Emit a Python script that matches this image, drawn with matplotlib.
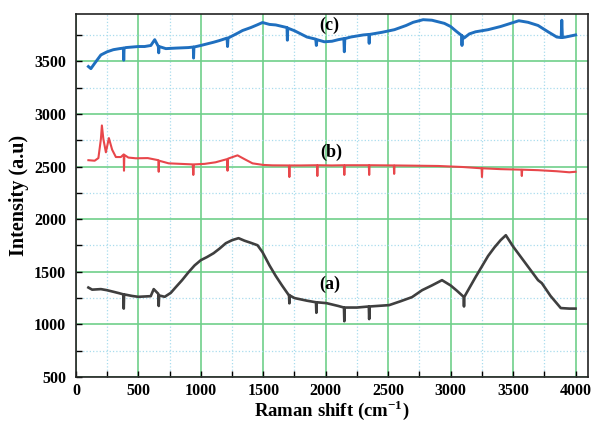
import matplotlib
matplotlib.use('Agg')
import matplotlib.pyplot as plt
from matplotlib.ticker import MultipleLocator

# 光谱数据 (从图中读取的近似值, 含尖峰)
a_x = [100, 130, 200, 248, 300, 350, 380, 383, 386, 450, 500, 599, 623, 660, 663, 666,
       711, 760, 800, 850, 902, 950, 1000, 1050, 1102, 1150, 1200, 1250, 1302, 1350,
       1400, 1454, 1494, 1550, 1600, 1650, 1700, 1706, 1709, 1712, 1750, 1850, 1922,
       1925, 1928, 2005, 2100, 2146, 2149, 2152, 2250, 2345, 2348, 2351, 2508, 2600,
       2691, 2772, 2850, 2931, 3000, 3050, 3104, 3107, 3110, 3200, 3300, 3350, 3400,
       3442, 3500, 3600, 3700, 3730, 3800, 3882, 3950, 4000]
a_y = [1350, 1330, 1335, 1325, 1310, 1295, 1285, 1150, 1285, 1270, 1262, 1268, 1335, 1290,
       1175, 1275, 1262, 1300, 1354, 1420, 1496, 1560, 1610, 1640, 1676, 1720, 1771, 1800,
       1819, 1795, 1775, 1752, 1686, 1560, 1460, 1370, 1285, 1280, 1200, 1275, 1250, 1225,
       1210, 1110, 1210, 1202, 1175, 1160, 1030, 1160, 1160, 1170, 1050, 1170, 1183, 1220,
       1259, 1325, 1370, 1420, 1370, 1320, 1262, 1170, 1262, 1450, 1650, 1730, 1800, 1847,
       1740, 1580, 1420, 1392, 1270, 1155, 1150, 1150]

b_x = [100, 150, 180, 200, 208, 220, 240, 264, 290, 320, 360, 383, 385, 388, 420, 480,
       575, 660, 663, 666, 743, 840, 935, 940, 945, 1030, 1118, 1210, 1214, 1218, 1294,
       1350, 1414, 1500, 1573, 1705, 1709, 1713, 1800, 1930, 1933, 1936, 2050, 2145,
       2149, 2153, 2345, 2348, 2351, 2545, 2548, 2551, 2700, 2900, 3000, 3100, 3248,
       3251, 3254, 3400, 3567, 3570, 3573, 3700, 3850, 3950, 4000]
b_y = [2560, 2555, 2580, 2760, 2890, 2760, 2635, 2770, 2660, 2590, 2590, 2615, 2460, 2610,
       2585, 2578, 2580, 2560, 2450, 2555, 2530, 2525, 2520, 2420, 2520, 2525, 2540, 2570,
       2460, 2575, 2606, 2570, 2530, 2515, 2511, 2510, 2400, 2510, 2510, 2512, 2410, 2512,
       2510, 2512, 2420, 2512, 2512, 2420, 2512, 2510, 2430, 2510, 2508, 2505, 2500, 2495,
       2483, 2400, 2483, 2475, 2470, 2410, 2470, 2465, 2455, 2445, 2450]

c_x = [100, 120, 150, 200, 250, 300, 350, 380, 383, 386, 400, 450, 500, 550, 600, 631,
       660, 663, 666, 720, 800, 900, 940, 942, 945, 1000, 1100, 1150, 1210, 1214, 1218,
       1300, 1334, 1400, 1450, 1494, 1550, 1600, 1690, 1693, 1696, 1750, 1800, 1850,
       1920, 1925, 1930, 1989, 2050, 2100, 2145, 2149, 2153, 2200, 2300, 2345, 2348,
       2351, 2450, 2550, 2644, 2700, 2780, 2850, 2950, 3000, 3050, 3088, 3091, 3094,
       3107, 3150, 3200, 3300, 3400, 3480, 3546, 3620, 3700, 3780, 3850, 3885, 3890,
       3895, 3920, 3960, 4000]
c_y = [3450, 3430, 3480, 3560, 3590, 3610, 3620, 3625, 3510, 3625, 3630, 3635, 3640, 3640,
       3650, 3705, 3640, 3580, 3640, 3620, 3625, 3630, 3635, 3530, 3635, 3650, 3680, 3697,
       3720, 3640, 3720, 3770, 3792, 3820, 3845, 3868, 3850, 3845, 3820, 3700, 3815, 3790,
       3760, 3730, 3710, 3650, 3705, 3685, 3690, 3705, 3715, 3590, 3715, 3730, 3750, 3755,
       3670, 3755, 3775, 3800, 3840, 3870, 3895, 3890, 3860, 3830, 3780, 3745, 3650, 3740,
       3720, 3760, 3780, 3800, 3830, 3860, 3885, 3870, 3840, 3780, 3730, 3725, 3890, 3725,
       3730, 3740, 3750]

labels = ['(a)', '(b)', '(c)']
label_pos = [(2030, 1385), (2045, 2635), (2030, 3845)]

plt.rcParams['font.family'] = ['Liberation Serif', 'DejaVu Serif']
plt.rcParams['font.weight'] = 'bold'
plt.rcParams['mathtext.fontset'] = 'custom'
plt.rcParams['mathtext.bf'] = 'Liberation Serif:bold'
plt.rcParams['mathtext.rm'] = 'Liberation Serif:bold'

fig = plt.figure(figsize=(5.93, 4.21), dpi=100)
ax = fig.add_axes([0.128, 0.1045, 0.8636, 0.8625])

# 网格: 主网格绿色实线, 次网格浅蓝点线
ax.xaxis.set_major_locator(MultipleLocator(500))
ax.xaxis.set_minor_locator(MultipleLocator(250))
ax.yaxis.set_major_locator(MultipleLocator(500))
ax.yaxis.set_minor_locator(MultipleLocator(250))
ax.grid(True, which='major', color='#6fcf8a', linewidth=1.2)
ax.grid(True, which='minor', color='#a9dced', linestyle=':', linewidth=0.9)
ax.set_axisbelow(True)

ax.plot(a_x, a_y, color='#3f3f3f', linewidth=1.9)
ax.plot(b_x, b_y, color='#e8474b', linewidth=1.5)
ax.plot(c_x, c_y, color='#1f6fbf', linewidth=2.1)

for lab, (lx, ly) in zip(labels, label_pos):
    ax.text(lx, ly, lab, fontsize=13, fontweight='bold', ha='center', va='center')

ax.set_xlim(0, 4100)
ax.set_ylim(500, 3950)
ax.tick_params(which='both', direction='in', labelsize=11.5)
ax.tick_params(axis='x', which='major', pad=4)
ax.tick_params(axis='y', which='major', pad=7)
ax.tick_params(which='major', length=4, width=1)
ax.tick_params(which='minor', length=4, width=1)
for lbl in ax.get_xticklabels() + ax.get_yticklabels():
    lbl.set_fontweight('bold')
for sp in ax.spines.values():
    sp.set_linewidth(1.2)
    sp.set_color('#222222')

ax.set_xlabel('Raman shift (cm$^{-1}$)', fontsize=13.5, fontweight='bold', labelpad=0)
ax.set_ylabel('Intensity (a.u)', fontsize=14.5, fontweight='bold', labelpad=4)

plt.savefig('out.png', dpi=100)
plt.close()
